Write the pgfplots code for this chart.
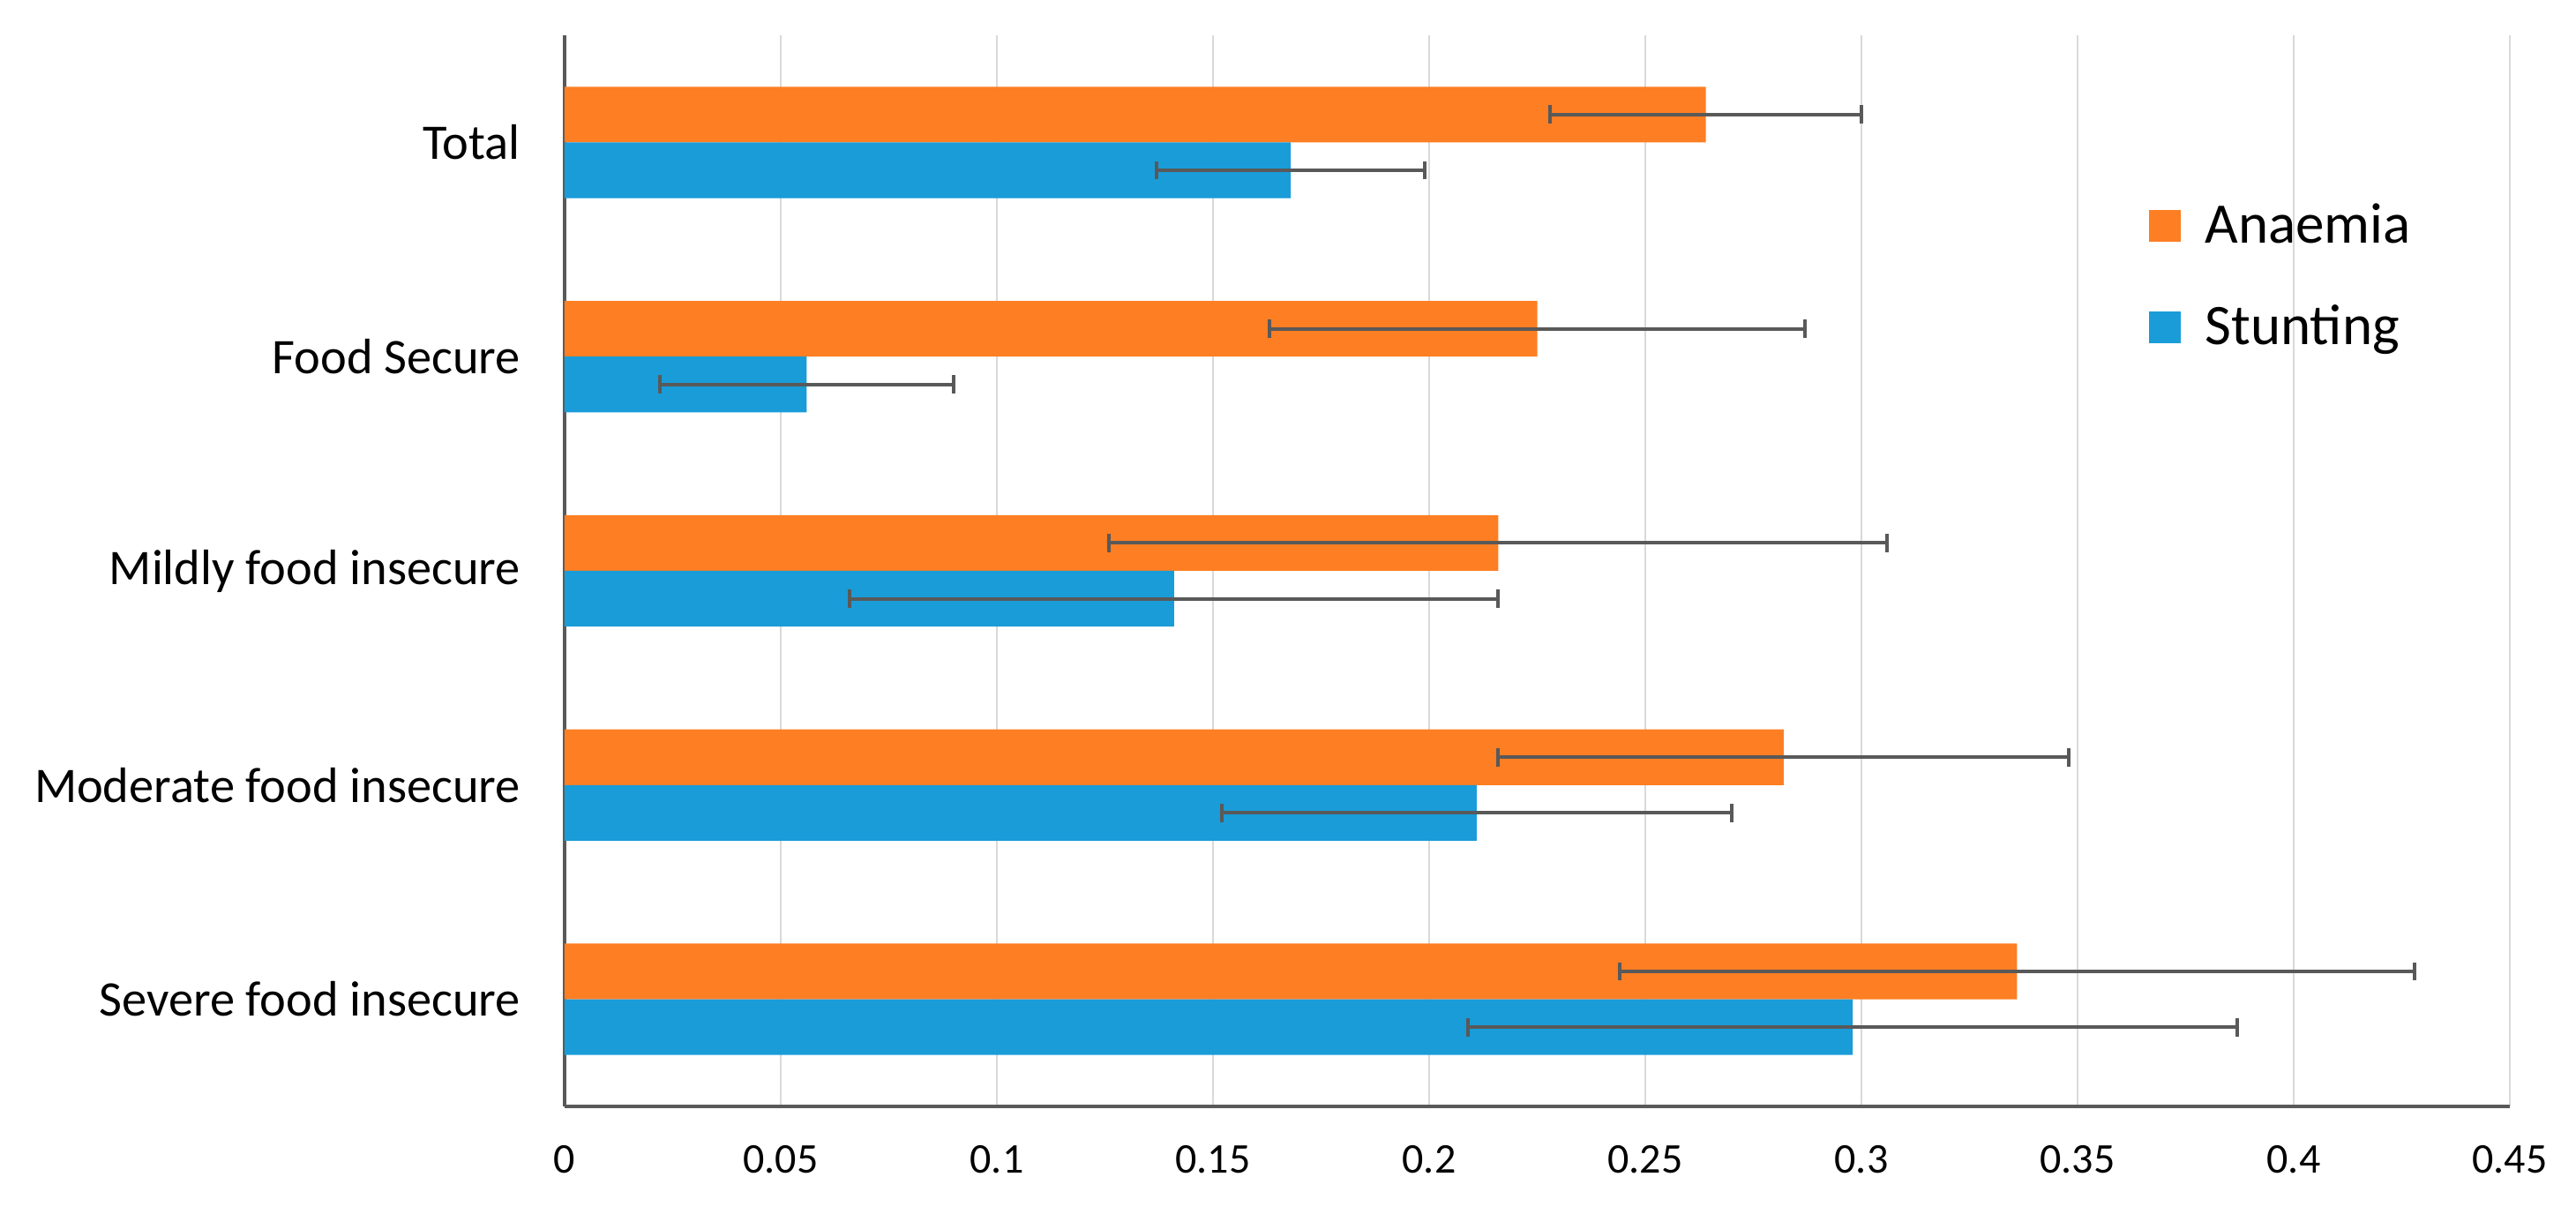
\documentclass[border=0pt]{standalone}
\usepackage{fontspec}
\setmainfont{Carlito}
\usepackage{pgfplots}
\usepackage{pgfplotstable}
\pgfplotsset{compat=1.18}

\definecolor{anaemia}{HTML}{FD7E23}
\definecolor{stunting}{HTML}{199CD8}
\definecolor{errgray}{HTML}{595959}
\definecolor{gridgray}{HTML}{D9D9D9}

% y: 0 = Severe ... 4 = Total
\pgfplotstableread{
y val err
0 0.336 0.092
1 0.282 0.066
2 0.216 0.090
3 0.225 0.062
4 0.264 0.036
}\anaemia

\pgfplotstableread{
y val err
0 0.298 0.089
1 0.211 0.059
2 0.141 0.075
3 0.056 0.034
4 0.168 0.031
}\stunting

\begin{document}
\begin{tikzpicture}
\begin{axis}[
    name=main,
    scale only axis,
    width=551.25pt, height=303.5pt,
    xbar, bar width=0.26,
    xmin=0, xmax=0.45, ymin=-0.5, ymax=4.5,
    axis x line*=bottom, axis y line*=left,
    axis line style={-, draw=errgray, line width=0.8pt},
    major tick length=0pt,
    xmajorgrids, grid style={gridgray, line width=0.5pt},
    xtick={0,0.05,0.1,0.15,0.2,0.25,0.3,0.35,0.4,0.45},
    xticklabels={0,0.05,0.1,0.15,0.2,0.25,0.3,0.35,0.4,0.45},
    xticklabel style={font=\fontsize{12}{14}\selectfont, yshift=-7.5pt},
    ytick={0,1,2,3,4},
    yticklabels={Severe food insecure, Moderate food insecure, Mildly food insecure, Food Secure, {Total\hspace{2.75pt}}},
    yticklabel style={font=\fontsize{14.1}{16}\selectfont, xshift=-9pt},
    legend style={draw=none, fill=none, at={(0.814,0.85)}, anchor=north west,
        inner sep=0pt, row sep=12pt, font=\fontsize{16.25}{18}\selectfont,
        /tikz/every odd column/.append style={column sep=5pt}},
    legend cell align=left,
    legend image code/.code={\draw[#1, draw=none] (0pt,-4.5pt) rectangle (9pt,4.5pt);},
]
\addplot[fill=anaemia, draw=none, bar shift=0.13,
    error bars/.cd, x dir=both, x explicit, error mark=|,
    error bar style={errgray, line width=1pt},
    error mark options={errgray, mark size=2.6pt, line width=1pt}]
    table[x=val, y=y, x error=err] {\anaemia};
\addlegendentry{Anaemia}
\addplot[fill=stunting, draw=none, bar shift=-0.13,
    error bars/.cd, x dir=both, x explicit, error mark=|,
    error bar style={errgray, line width=1pt},
    error mark options={errgray, mark size=2.6pt, line width=1pt}]
    table[x=val, y=y, x error=err] {\stunting};
\addlegendentry{Stunting}
\end{axis}
\pgfresetboundingbox
\path[use as bounding box] ([xshift=-160pt,yshift=-28.5pt]main.south west) rectangle ([xshift=18.75pt,yshift=10pt]main.north east);
\end{tikzpicture}
\end{document}
